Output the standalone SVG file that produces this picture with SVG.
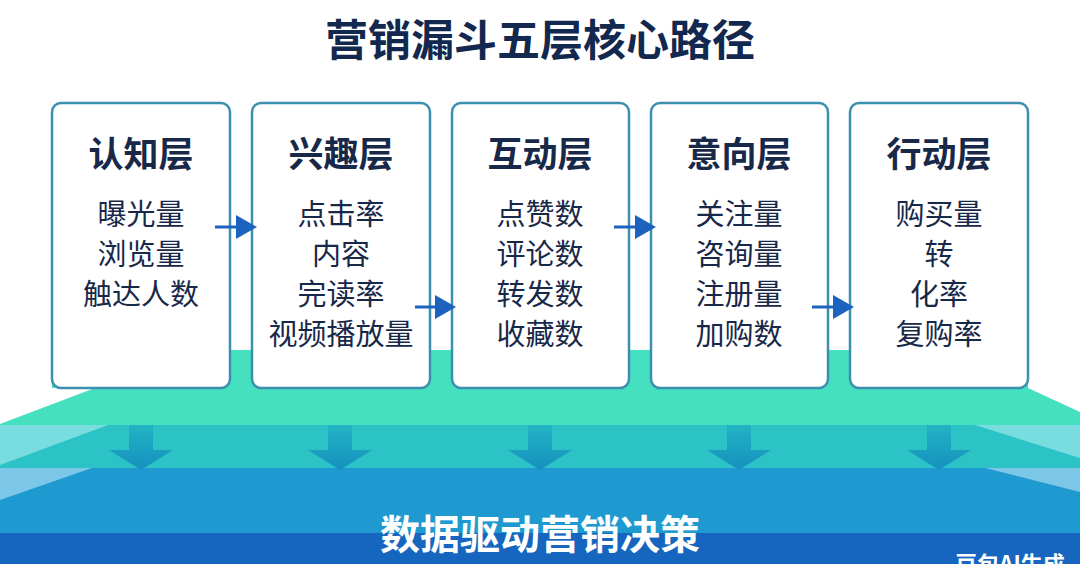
<svg xmlns="http://www.w3.org/2000/svg" width="1080" height="564" viewBox="0 0 1080 564">
<defs>
<style>
text{font-family:"Noto Sans CJK SC","Noto Sans",sans-serif;text-anchor:middle;fill:#182848}
.t{font-size:43px;font-weight:700;fill:#13284e}
.h{font-size:35px;font-weight:700}
.i{font-size:29px}
.box{fill:#fff;stroke:#3c8fae;stroke-width:2.5}
.con{stroke:#1c63c0;stroke-width:3;fill:none;marker-end:url(#ah)}
.dn{fill:url(#dg)}
</style>
<marker id="ah" markerWidth="8" markerHeight="8" refX="6" refY="4" orient="auto" markerUnits="strokeWidth"><path d="M0,0L7,4L0,8z" fill="#1c63c0"/></marker>
<linearGradient id="dg" x1="0" y1="0" x2="0" y2="1"><stop offset="0" stop-color="#22b4c4"/><stop offset="1" stop-color="#1590bf"/></linearGradient>
</defs>
<rect width="1080" height="564" fill="#fff"/>
<g id="base">
<polygon points="52,350 1028,350 1028,388 1080,412 1080,425 0,425 0,424 95,388 52,388" fill="#44e0bf"/>
<rect x="0" y="425" width="1080" height="44" fill="#2cc3c6"/>
<polygon points="0,425 108,425 0,465" fill="#79dde0"/>
<polygon points="975,425 1080,425 1080,458" fill="#79dde0"/>
<rect x="0" y="468" width="1080" height="66" fill="#1e9ad0"/>
<polygon points="0,468 92,468 0,500" fill="#7cc6e8"/>
<polygon points="985,468 1080,468 1080,492" fill="#7cc6e8"/>
<rect x="0" y="533" width="1080" height="31" fill="#1666c0"/>
<text x="540" y="549" style="font-size:40px;font-weight:700;fill:#fff">数据驱动营销决策</text>
<text x="1010" y="572" style="font-size:22px;font-weight:700;fill:#fff">豆包AI生成</text>
</g>
<g id="downs">
<path class="dn" d="M129,425h24v25h20l-32,20l-32,-20h20z"/>
<path class="dn" d="M328,425h24v25h20l-32,20l-32,-20h20z"/>
<path class="dn" d="M528,425h24v25h20l-32,20l-32,-20h20z"/>
<path class="dn" d="M727,425h24v25h20l-32,20l-32,-20h20z"/>
<path class="dn" d="M927,425h24v25h20l-32,20l-32,-20h20z"/>
</g>
<text class="t" x="540" y="56">营销漏斗五层核心路径</text>
<g id="n1"><rect class="box" x="52" y="103" width="178" height="285" rx="9"/>
<text class="h" x="141" y="167">认知层</text>
<text class="i" x="141" y="225">曝光量</text><text class="i" x="141" y="265">浏览量</text><text class="i" x="141" y="305">触达人数</text></g>
<g id="n2"><rect class="box" x="252" y="103" width="178" height="285" rx="9"/>
<text class="h" x="341" y="167">兴趣层</text>
<text class="i" x="341" y="225">点击率</text><text class="i" x="341" y="265">内容</text><text class="i" x="341" y="305">完读率</text><text class="i" x="341" y="345">视频播放量</text></g>
<g id="n3"><rect class="box" x="452" y="103" width="177" height="285" rx="9"/>
<text class="h" x="540" y="167">互动层</text>
<text class="i" x="540" y="225">点赞数</text><text class="i" x="540" y="265">评论数</text><text class="i" x="540" y="305">转发数</text><text class="i" x="540" y="345">收藏数</text></g>
<g id="n4"><rect class="box" x="651" y="103" width="177" height="285" rx="9"/>
<text class="h" x="739" y="167">意向层</text>
<text class="i" x="739" y="225">关注量</text><text class="i" x="739" y="265">咨询量</text><text class="i" x="739" y="305">注册量</text><text class="i" x="739" y="345">加购数</text></g>
<g id="n5"><rect class="box" x="850" y="103" width="178" height="285" rx="9"/>
<text class="h" x="939" y="167">行动层</text>
<text class="i" x="939" y="225">购买量</text><text class="i" x="939" y="265">转</text><text class="i" x="939" y="305">化率</text><text class="i" x="939" y="345">复购率</text></g>
<g id="connectors">
<line class="con" x1="215" y1="227" x2="254" y2="227"/>
<line class="con" x1="415" y1="307" x2="453" y2="307"/>
<line class="con" x1="614" y1="227" x2="653" y2="227"/>
<line class="con" x1="812" y1="307" x2="851" y2="307"/>
</g>
</svg>
